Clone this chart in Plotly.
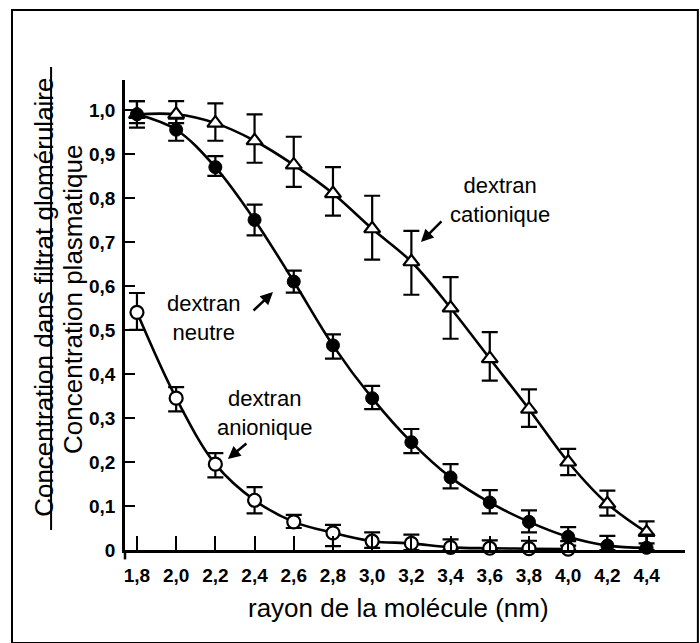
import plotly.graph_objects as go

# ---- data ----
rayon = [1.8, 2.0, 2.2, 2.4, 2.6, 2.8, 3.0, 3.2, 3.4, 3.6, 3.8, 4.0, 4.2, 4.4]

cationique = [0.99, 0.99, 0.97, 0.93, 0.875, 0.81, 0.73, 0.655, 0.55, 0.435, 0.32, 0.20, 0.105, 0.04]
cat_err_plus = [0.03, 0.03, 0.045, 0.06, 0.064, 0.06, 0.075, 0.07, 0.07, 0.06, 0.045, 0.03, 0.03, 0.025]
cat_err_minus = [0.03, 0.02, 0.04, 0.05, 0.05, 0.05, 0.07, 0.075, 0.07, 0.05, 0.04, 0.03, 0.027, 0.025]

neutre = [0.99, 0.955, 0.87, 0.75, 0.61, 0.465, 0.345, 0.245, 0.165, 0.108, 0.064, 0.03, 0.01, 0.005]
neu_err_plus = [0.03, 0.025, 0.025, 0.035, 0.025, 0.025, 0.028, 0.03, 0.03, 0.028, 0.026, 0.022, 0.022, 0.03]
neu_err_minus = [0.02, 0.025, 0.02, 0.035, 0.025, 0.03, 0.025, 0.025, 0.025, 0.025, 0.024, 0.02, 0.01, 0.005]

rayon_anio = [1.8, 2.0, 2.2, 2.4, 2.6, 2.8, 3.0, 3.2, 3.4, 3.6, 3.8, 4.0]
anionique = [0.54, 0.345, 0.195, 0.113, 0.064, 0.039, 0.02, 0.015, 0.006, 0.004, 0.003, 0.002]
ani_err_plus = [0.044, 0.025, 0.025, 0.03, 0.016, 0.018, 0.02, 0.02, 0.018, 0.018, 0.018, 0.018]
ani_err_minus = [0.04, 0.03, 0.03, 0.03, 0.014, 0.03, 0.015, 0.015, 0.006, 0.004, 0.003, 0.002]

x_ticks = [1.8, 2.0, 2.2, 2.4, 2.6, 2.8, 3.0, 3.2, 3.4, 3.6, 3.8, 4.0, 4.2, 4.4]
x_ticktext = ["1,8", "2,0", "2,2", "2,4", "2,6", "2,8", "3,0", "3,2", "3,4", "3,6", "3,8", "4,0", "4,2", "4,4"]
y_ticks = [0, 0.1, 0.2, 0.3, 0.4, 0.5, 0.6, 0.7, 0.8, 0.9, 1.0]
y_ticktext = ["0", "0,1", "0,2", "0,3", "0,4", "0,5", "0,6", "0,7", "0,8", "0,9", "1,0"]

BLACK = "black"


def err(plus, minus):
    return dict(type="data", symmetric=False, array=plus, arrayminus=minus,
                color=BLACK, thickness=2.2, width=8)


fig = go.Figure()
fig.add_trace(go.Scatter(
    x=rayon, y=cationique, mode="lines+markers",
    line=dict(color=BLACK, width=2.6, shape="spline", smoothing=1.0),
    marker=dict(symbol="triangle-up", size=14, color="white", line=dict(color=BLACK, width=2.2)),
    error_y=err(cat_err_plus, cat_err_minus), showlegend=False, cliponaxis=False))
fig.add_trace(go.Scatter(
    x=rayon, y=neutre, mode="lines+markers",
    line=dict(color=BLACK, width=2.6, shape="spline", smoothing=1.0),
    marker=dict(symbol="circle", size=13, color=BLACK, line=dict(color=BLACK, width=1)),
    error_y=err(neu_err_plus, neu_err_minus), showlegend=False, cliponaxis=False))
fig.add_trace(go.Scatter(
    x=rayon_anio, y=anionique, mode="lines+markers",
    line=dict(color=BLACK, width=2.6, shape="spline", smoothing=1.0),
    marker=dict(symbol="circle", size=13, color="white", line=dict(color=BLACK, width=2.2)),
    error_y=err(ani_err_plus, ani_err_minus), showlegend=False, cliponaxis=False))

TXT = dict(family="Liberation Sans, Arial, sans-serif", size=22, color=BLACK)
BIG = dict(family="Liberation Sans, Arial, sans-serif", size=26, color=BLACK)
TICK = dict(family="Liberation Sans, Arial, sans-serif", size=19, color=BLACK, weight="bold")

annotations = [
    dict(x=3.652, y=0.795, xref="x", yref="y", text="dextran<br>cationique",
         showarrow=False, font=TXT, align="center"),
    dict(x=2.137, y=0.527, xref="x", yref="y", text="dextran<br>neutre",
         showarrow=False, font=TXT, align="center"),
    dict(x=2.453, y=0.311, xref="x", yref="y", text="dextran<br>anionique",
         showarrow=False, font=TXT, align="center"),
    # arrows
    dict(x=3.249, y=0.70, ax=3.361, ay=0.75, xref="x", yref="y", axref="x", ayref="y",
         text="", showarrow=True, arrowhead=2, arrowsize=1, arrowwidth=2.5, arrowcolor=BLACK),
    dict(x=2.494, y=0.586, ax=2.387, ay=0.541, xref="x", yref="y", axref="x", ayref="y",
         text="", showarrow=True, arrowhead=2, arrowsize=1, arrowwidth=2.5, arrowcolor=BLACK),
    dict(x=2.264, y=0.207, ax=2.366, ay=0.245, xref="x", yref="y", axref="x", ayref="y",
         text="", showarrow=True, arrowhead=2, arrowsize=1, arrowwidth=2.5, arrowcolor=BLACK),
    # y-axis label (fraction)
    dict(x=-0.146, y=0.537, xref="paper", yref="paper", text="Concentration dans filtrat glomérulaire",
         textangle=-90, showarrow=False, font=BIG, xanchor="center", yanchor="middle"),
    dict(x=-0.093, y=0.534, xref="paper", yref="paper", text="Concentration plasmatique",
         textangle=-90, showarrow=False, font=BIG, xanchor="center", yanchor="middle"),
    # x-axis title
    dict(x=0.489, y=-0.123, xref="paper", yref="paper", text="rayon de la molécule (nm)",
         showarrow=False, font=BIG, xanchor="center", yanchor="middle"),
]

shapes = [
    # outer frame
    dict(type="rect", xref="paper", yref="paper", x0=-0.2018, x1=1.023, y0=-0.198, y1=1.149,
         line=dict(color=BLACK, width=2)),
    # fraction bar
    dict(type="line", xref="paper", yref="paper", x0=-0.132, x1=-0.132, y0=0.0426, y1=1.0277,
         line=dict(color=BLACK, width=2)),
    # y-axis stub below the x-axis
    dict(type="line", xref="paper", yref="paper", x0=0, x1=0, y0=0, y1=-0.02,
         line=dict(color=BLACK, width=2.5)),
]

fig.update_layout(
    width=700, height=643,
    margin=dict(l=125, r=15, t=80, b=93),
    paper_bgcolor="white", plot_bgcolor="white",
    annotations=annotations, shapes=shapes,
    xaxis=dict(range=[1.739, 4.596], tickvals=x_ticks, ticktext=x_ticktext,
               showgrid=False, zeroline=False, showline=True, linecolor=BLACK, linewidth=2.5,
               ticks="inside", ticklen=14, tickwidth=2, tickcolor=BLACK,
               tickfont=TICK, ticklabelstandoff=6),
    yaxis=dict(range=[0, 1.068], tickvals=y_ticks, ticktext=y_ticktext,
               showgrid=False, zeroline=False, showline=True, linecolor=BLACK, linewidth=2.5,
               ticks="inside", ticklen=10, tickwidth=2, tickcolor=BLACK,
               tickfont=TICK, ticklabelstandoff=3),
)

fig.write_html("out.html")
